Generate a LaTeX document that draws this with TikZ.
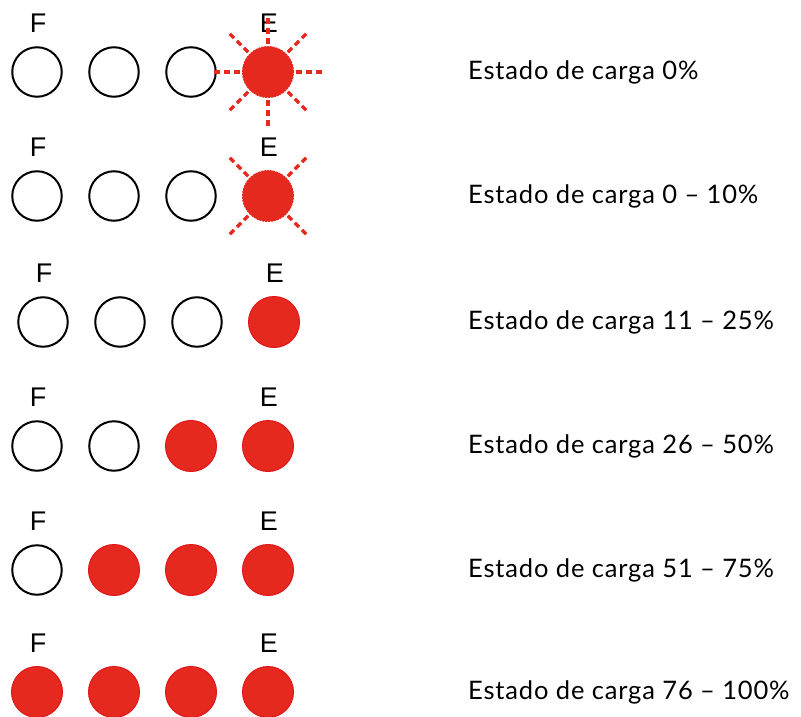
\documentclass[tikz,border=0pt]{standalone}
\usepackage{fontspec}
\setmainfont{Lato}[LetterSpace=3.3]
\newfontfamily\labelfont{Liberation Sans}
\definecolor{ledred}{RGB}{229,41,30}
\definecolor{ledrim}{RGB}{224,22,28}
\tikzset{
  led/.style={circle,draw=black,line width=2pt,minimum size=49.5pt,inner sep=0pt},
  ledon/.style={led,fill=ledred,draw=ledrim,line width=1pt,minimum size=51pt},
  ledflash/.style={ledon,draw=ledred,dash pattern=on 2pt off 1pt},
  ray/.style={draw=ledred,line width=3.2pt,dash pattern=on 6pt off 4pt},
  tag/.style={font=\labelfont\fontsize{27}{27}\selectfont,inner sep=0pt},
  soc/.style={anchor=base west,inner sep=0pt,font=\fontsize{25.5}{28}\selectfont}
}
\begin{document}
\begin{tikzpicture}[x=1pt,y=-1pt]
\useasboundingbox (0,0) rectangle (801,717);
% one row per state of charge
\foreach \r/\y/\dx/\leds/\txt in {
    1/72/0/{led,led,led,ledflash}/{Estado de carga 0\%},
    2/196/0/{led,led,led,ledflash}/{Estado de carga 0 -- 10\%},
    3/322/6/{led,led,led,ledon}/{Estado de carga 11 -- 25\%},
    4/446/0/{led,led,ledon,ledon}/{Estado de carga 26 -- 50\%},
    5/570/0/{led,ledon,ledon,ledon}/{Estado de carga 51 -- 75\%},
    6/692/0/{ledon,ledon,ledon,ledon}/{Estado de carga 76 -- 100\%}}{
  \foreach \s [count=\i] in \leds
    \node[\s] (l\r\i) at ({\dx+37+77*(\i-1)},\y) {};
  \node[tag] (f\r) at ({\dx+38},\y-49) {F};
  \node[tag] (e\r) at ({\dx+269},\y-49) {E};
  \node[soc] (s\r) at (468,\y+7.5) {\txt};
}
% flashing rays
\foreach \a in {0,45,...,315}
  \draw[ray] ([shift={(\a:28)}]l14.center) -- ([shift={(\a:54)}]l14.center);
\foreach \a in {45,135,225,315}
  \draw[ray] ([shift={(\a:28)}]l24.center) -- ([shift={(\a:54)}]l24.center);
\end{tikzpicture}
\end{document}
